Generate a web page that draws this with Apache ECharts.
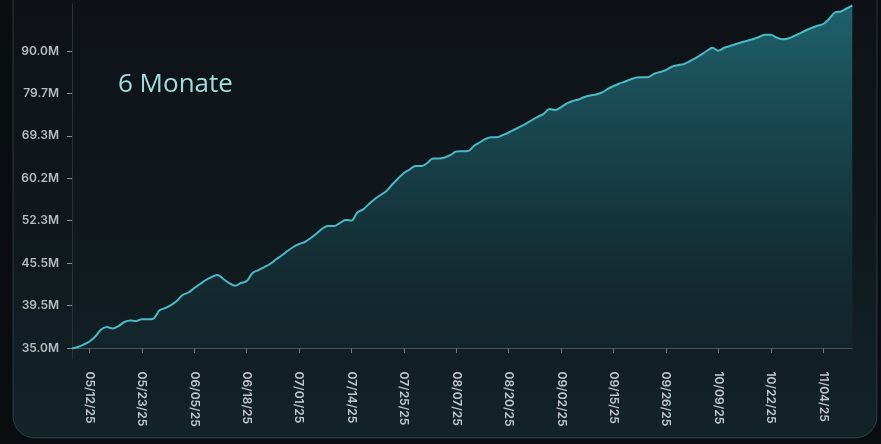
<!DOCTYPE html>
<html><head><meta charset="utf-8">
<script src="https://cdn.jsdelivr.net/npm/echarts@6/dist/echarts.min.js"></script>
<style>html,body{margin:0;padding:0;background:#0a0d10;}#c{width:881px;height:444px;}</style>
</head><body><div id="c"></div>
<script>
const dates = [
'05/07/25','05/08/25','05/09/25','05/12/25','05/13/25','05/14/25','05/15/25','05/16/25','05/19/25','05/20/25','05/21/25','05/22/25','05/23/25','05/26/25','05/27/25','05/28/25','05/29/25','05/30/25',
'06/02/25','06/03/25','06/04/25','06/05/25','06/06/25','06/09/25','06/10/25','06/11/25','06/12/25','06/13/25','06/16/25','06/17/25','06/18/25','06/19/25','06/20/25','06/23/25','06/24/25','06/25/25','06/26/25','06/27/25','06/30/25',
'07/01/25','07/02/25','07/03/25','07/04/25','07/07/25','07/08/25','07/09/25','07/10/25','07/11/25','07/14/25','07/15/25','07/16/25','07/17/25','07/18/25','07/21/25','07/22/25','07/23/25','07/24/25','07/25/25','07/28/25','07/29/25','07/30/25','07/31/25',
'08/01/25','08/04/25','08/05/25','08/06/25','08/07/25','08/08/25','08/11/25','08/12/25','08/13/25','08/14/25','08/15/25','08/18/25','08/19/25','08/20/25','08/21/25','08/22/25','08/25/25','08/26/25','08/27/25','08/28/25','08/29/25',
'09/01/25','09/02/25','09/03/25','09/04/25','09/05/25','09/08/25','09/09/25','09/10/25','09/11/25','09/12/25','09/15/25','09/16/25','09/17/25','09/18/25','09/19/25','09/22/25','09/23/25','09/24/25','09/25/25','09/26/25','09/29/25','09/30/25',
'10/01/25','10/02/25','10/03/25','10/06/25','10/07/25','10/08/25','10/09/25','10/10/25','10/13/25','10/14/25','10/15/25','10/16/25','10/17/25','10/20/25','10/21/25','10/22/25','10/23/25','10/24/25','10/27/25','10/28/25','10/29/25','10/30/25','10/31/25',
'11/03/25','11/04/25','11/05/25','11/06/25','11/07/25','11/10/25','11/11/25'
];
// values in millions, one per date
const values = [
34.95,35.11,35.37,35.69,36.22,36.96,37.23,37.07,37.33,37.76,37.92,37.86,38.04,38.04,38.13,38.98,39.24,39.58,
40.15,41.00,41.35,41.98,42.55,43.12,43.54,43.82,43.26,42.69,42.31,42.69,42.97,44.11,44.53,44.95,45.38,46.08,46.72,47.45,48.09,
48.57,48.89,49.53,50.25,51.05,51.45,51.45,51.93,52.43,52.34,53.83,54.42,55.41,56.34,57.09,57.83,59.04,60.16,61.33,62.09,62.84,62.84,63.48,
64.44,64.44,64.66,65.20,65.95,65.99,66.05,67.13,67.88,68.63,68.99,68.99,69.51,70.12,70.86,71.59,72.33,73.19,73.97,74.71,75.88,
75.64,76.37,77.28,77.84,78.21,78.82,79.19,79.44,79.93,80.78,81.50,82.11,82.60,83.15,83.57,83.62,83.69,84.49,84.90,85.39,86.19,86.55,
86.80,87.45,88.23,89.08,90.00,90.78,90.07,90.80,91.21,91.70,92.11,92.50,92.91,93.40,93.96,93.93,93.28,92.84,93.04,93.64,94.30,94.98,95.58,
96.12,96.56,97.77,99.35,99.59,100.32,101.05
];
const tickValues = [35.0, 39.5, 45.5, 52.3, 60.2, 69.3, 79.7, 90.0];
const tickLabels = ['35.0M','39.5M','45.5M','52.3M','60.2M','69.3M','79.7M','90.0M'];
const labelDates = ['05/12/25','05/23/25','06/05/25','06/18/25','07/01/25','07/14/25','07/25/25','08/07/25','08/20/25','09/02/25','09/15/25','09/26/25','10/09/25','10/22/25','11/04/25'];
const titleText = '6 Monate';

// axis scale: tick labels are evenly spaced; piecewise-linear between them
function toPos(v){
  const t = tickValues, n = t.length;
  if (v <= t[0]) return (v - t[0]) / (t[1] - t[0]);
  for (let k = 0; k < n - 1; k++) {
    if (v <= t[k+1]) return k + (v - t[k]) / (t[k+1] - t[k]);
  }
  return (n - 1) + (v - t[n-1]) / (t[n-1] - t[n-2]);
}
const seriesData = values.map(toPos);
const tickPos = tickValues.map((_, i) => i);

const chart = echarts.init(document.getElementById('c'));
const isLabel = (i, val) => labelDates.indexOf(val) >= 0;
chart.setOption({
  backgroundColor: '#0a0d10',
  animation: false,
  graphic: [
    { type: 'rect', z: -10, silent: true,
      shape: { x: 13, y: -30, width: 864, height: 468, r: [0, 0, 22, 22] },
      style: {
        fill: new echarts.graphic.LinearGradient(0, 0, 0, 1, [
          { offset: 0, color: '#0e1115' },
          { offset: 0.6, color: '#10191e' },
          { offset: 1, color: '#132429' }
        ]),
        stroke: 'rgba(110,170,180,0.28)', lineWidth: 1
      }
    },
    { type: 'text', z: 10, left: 118, top: 72,
      style: { text: titleText, fill: '#a3dcdc', font: '26px "Open Sans", "Noto Sans", sans-serif' }
    }
  ],
  grid: { left: 72, right: 28.7, top: 4, bottom: 85.5 },
  xAxis: {
    type: 'category', data: dates, boundaryGap: false,
    axisLine: { show: true, lineStyle: { color: '#4a545b', width: 1 } },
    axisTick: { show: true, interval: isLabel, length: 5, lineStyle: { color: '#6b747a' } },
    axisLabel: { interval: isLabel, rotate: -90, margin: 13, color: '#c3c7cb',
      fontSize: 12, fontWeight: 600, fontFamily: 'Inter, Roboto, sans-serif' },
    splitLine: { show: false }
  },
  yAxis: {
    type: 'value', min: -0.247, max: 8.108,
    axisLine: { show: true, lineStyle: { color: '#26343a', width: 1 } },
    axisTick: { show: true, customValues: tickPos, length: 5, lineStyle: { color: '#8a9297' } },
    axisLabel: { customValues: tickPos, margin: 13, color: '#b9bdc1', fontSize: 12, fontWeight: 600,
      fontFamily: 'Inter, Roboto, sans-serif',
      formatter: v => tickLabels[Math.round(v)] },
    splitLine: { show: false }
  },
  series: [{
    type: 'line', data: seriesData, smooth: 0.35, showSymbol: false, clip: true,
    lineStyle: { color: '#4db8c6', width: 2 },
    areaStyle: {
      color: new echarts.graphic.LinearGradient(0, 0, 0, 1, [
        { offset: 0, color: 'rgba(38,132,145,1)' },
        { offset: 0.45, color: 'rgba(28,92,104,0.85)' },
        { offset: 1, color: 'rgba(20,48,56,0.5)' }
      ])
    }
  }]
});
</script></body></html>
